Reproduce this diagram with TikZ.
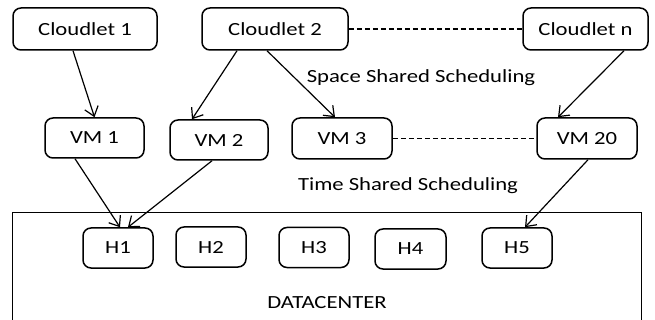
\documentclass[tikz,border=0pt]{standalone}
\usepackage{fontspec}
\setmainfont{Carlito}
\usepackage{graphicx}
\usetikzlibrary{arrows.meta}
\newcommand{\sx}[1]{\scalebox{1.26}[1.03]{#1}}
\tikzset{
  box/.style={draw, line width=1.5pt, rounded corners=8pt, inner sep=0pt, font=\fontsize{18}{20}\selectfont},
  lbl/.style={inner sep=0pt, font=\fontsize{18}{20}\selectfont},
  arr/.style={line width=1.2pt, -{Straight Barb[length=9pt,width=14pt,line width=1.2pt]}},
  dsh/.style={line width=1.1pt, dash pattern=on 5pt off 3pt},
}
\begin{document}
\begin{tikzpicture}[x=1pt,y=-1pt]
\useasboundingbox (0,0) rectangle (655,320);
\clip (0,0) rectangle (655,320);
% datacenter
\node[draw, line width=1.4pt, minimum width=629pt, minimum height=130pt, inner sep=0pt, anchor=north west] (dc) at (12,212) {};
\node[lbl] (dct) at (327,303) {\sx{DATACENTER}};
% cloudlets
\node[box, minimum width=144pt, minimum height=42pt] (c1) at (85,29) {\sx{Cloudlet 1}};
\node[box, minimum width=146pt, minimum height=42pt] (c2) at (275,29) {\sx{Cloudlet 2}};
\node[box, minimum width=125pt, minimum height=42pt] (cn) at (585.5,29) {\sx{Cloudlet n}};
% VMs
\node[box, minimum width=99pt, minimum height=40pt] (vm1) at (94.5,138) {\sx{VM 1}};
\node[box, minimum width=98pt, minimum height=40pt] (vm2) at (219,140) {\sx{VM 2}};
\node[box, minimum width=100pt, minimum height=41pt] (vm3) at (342,138.5) {\sx{VM 3}};
\node[box, minimum width=100pt, minimum height=41pt] (vm20) at (587,138.5) {\sx{VM 20}};
% hosts
\node[box, minimum width=70pt, minimum height=40pt] (h1) at (118,248) {\sx{H1}};
\node[box, minimum width=70pt, minimum height=40pt] (h2) at (211,247) {\sx{H2}};
\node[box, minimum width=70pt, minimum height=40pt] (h3) at (314,247.5) {\sx{H3}};
\node[box, minimum width=71pt, minimum height=40pt] (h4) at (410.5,249) {\sx{H4}};
\node[box, minimum width=70pt, minimum height=40pt] (h5) at (517,248) {\sx{H5}};
% labels
\node[lbl] (ss) at (421,78) {\sx{Space Shared Scheduling}};
\node[lbl] (ts) at (408,186) {\sx{Time Shared Scheduling}};
% dashed
\draw[dsh] (c2.east) -- (cn.west);
\draw[dsh] (vm3.east) -- (vm20.west);
% arrows
\draw[arr] ([xshift=-12pt]c1.south) -- (vm1.north);
\draw[arr] ([xshift=-38pt]c2.south) -- ([xshift=-27pt]vm2.north);
\draw[arr] ([xshift=-8pt]c2.south) -- ([xshift=-7pt]vm3.north);
\draw[arr] ([xshift=38.5pt]cn.south) -- ([xshift=-29pt]vm20.north);
\draw[arr] ([xshift=-19.5pt]vm1.south) -- ([xshift=2pt]h1.north);
\draw[arr] ([xshift=-7pt]vm2.south) -- ([xshift=10pt]h1.north);
\draw[arr] ([xshift=1pt]vm20.south) -- ([xshift=8pt]h5.north);
\end{tikzpicture}
\end{document}
